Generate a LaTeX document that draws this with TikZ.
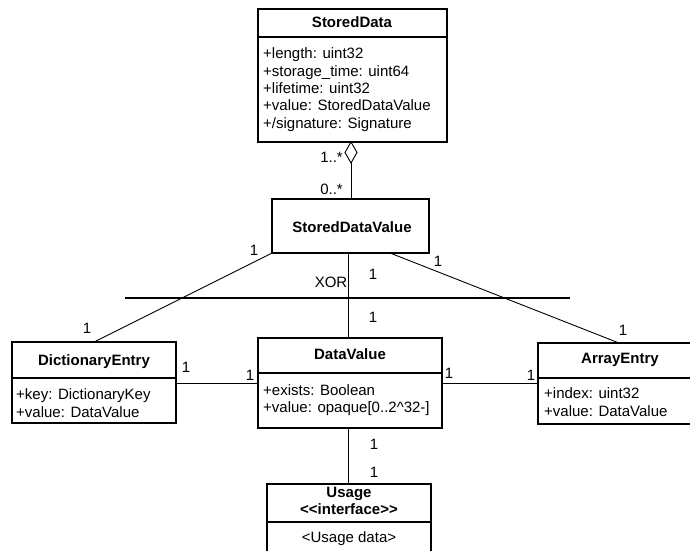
\documentclass[tikz,border=0pt]{standalone}
\usepackage{fontspec}
\setmainfont{Liberation Sans}
\begin{document}
\begin{tikzpicture}[x=1pt,y=-1pt,
  font=\fontsize{15}{17.5}\selectfont,
  umlbox/.style={draw, line width=1.3pt, inner sep=0pt, outer sep=0pt, anchor=north west},
  sepline/.style={line width=1.3pt},
  conn/.style={line width=0.9pt},
  txt/.style={inner sep=0pt, text height=11pt, text depth=3pt},
  ttl/.style={txt, font=\fontsize{15}{17.5}\selectfont\bfseries},
  attr/.style={txt, anchor=west},
  mult/.style={txt}]
\useasboundingbox (0,0) rectangle (690,550);
\clip (0,0) rectangle (690,550);

% StoredData
\node[umlbox, minimum width=189pt, minimum height=133pt] (sd) at (258,9) {};
\draw[sepline] (258,37) -- (447,37);
\node[ttl] (sdt) at (352,23) {StoredData};
\node[attr] (sda1) at (263,54) {+length: uint32};
\node[attr] (sda2) at (263,72) {+storage\_time: uint64};
\node[attr] (sda3) at (263,89) {+lifetime: uint32};
\node[attr] (sda4) at (263,106) {+value: StoredDataValue};
\node[attr] (sda5) at (263,124) {+/signature: Signature};

% aggregation diamond
\coordinate (dtop) at (351,142);
\coordinate (dbot) at (351,163);
\draw[conn, fill=white] (dtop) -- (357,152.5) -- (dbot) -- (345,152.5) -- cycle;
\node[mult, anchor=east] (m1) at (343,158) {1..*};
\node[mult, anchor=east] (m2) at (343,190) {0..*};

% StoredDataValue
\node[umlbox, minimum width=157pt, minimum height=54pt] (sdv) at (272,199) {};
\node[ttl] (sdvt) at (352,228) {StoredDataValue};
\draw[conn] (dbot) -- (dbot |- sdv.north);

% DataValue
\node[umlbox, minimum width=184pt, minimum height=90pt] (dv) at (258,338) {};
\draw[sepline] (258,373) -- (442,373);
\node[ttl] (dvt) at (350,355) {DataValue};
\node[attr] (dva1) at (263,391) {+exists: Boolean};
\node[attr] (dva2) at (263,408) {+value: opaque[0..2\textasciicircum32-]};

% DictionaryEntry
\node[umlbox, minimum width=164pt, minimum height=81pt] (de) at (12,342) {};
\draw[sepline] (12,378) -- (176,378);
\node[ttl] (det) at (94,361) {DictionaryEntry};
\node[attr] (dea1) at (16,395) {+key: DictionaryKey};
\node[attr] (dea2) at (16,413) {+value: DataValue};

% ArrayEntry (continues past the right edge of the picture)
\node[umlbox, minimum width=162pt, minimum height=81pt] (ae) at (538,343) {};
\draw[sepline] (538,378) -- (700,378);
\node[ttl] (aet) at (620,359) {ArrayEntry};
\node[attr] (aea1) at (544,394) {+index: uint32};
\node[attr] (aea2) at (544,412) {+value: DataValue};

% Usage (continues past the bottom edge of the picture)
\node[umlbox, minimum width=164pt, minimum height=80pt] (us) at (267,484) {};
\draw[sepline] (267,522) -- (431,522);
\node[ttl] (ust1) at (349,493) {Usage};
\node[ttl] (ust2) at (349,510) {<\kern0pt<interface>\kern0pt>};
\node[txt] (usa) at (349,538) {<Usage data>};

% XOR constraint
\draw[line width=2.6pt] (125,298) -- (570,298);
\node[txt] (xor) at (331,283) {XOR};

% connectors
\coordinate (vx) at (348,0);
\coordinate (sdvr) at (390,253);
\draw[conn] (sdv.south west) -- (de.north);
\draw[conn] (sdvr) -- (ae.north);
\draw[conn] (vx |- sdv.south) -- (vx |- dv.north);
\draw[conn] (de.east |- 0,383) -- (dv.west |- 0,383);
\draw[conn] (dv.east |- 0,383) -- (ae.west |- 0,383);
\draw[conn] (vx |- dv.south) -- (vx |- us.north);

% multiplicities
\node[mult] (l1) at (254,251) {1};
\node[mult] (l2) at (87,329) {1};
\node[mult] (l3) at (438,262) {1};
\node[mult] (l4) at (623,331) {1};
\node[mult] (l5) at (373,275) {1};
\node[mult] (l6) at (373,318) {1};
\node[mult] (l7) at (186,368) {1};
\node[mult] (l8) at (250,376) {1};
\node[mult] (l9) at (449,374) {1};
\node[mult] (l10) at (531,376) {1};
\node[mult] (l11) at (374,445) {1};
\node[mult] (l12) at (374,473) {1};
\end{tikzpicture}
\end{document}
